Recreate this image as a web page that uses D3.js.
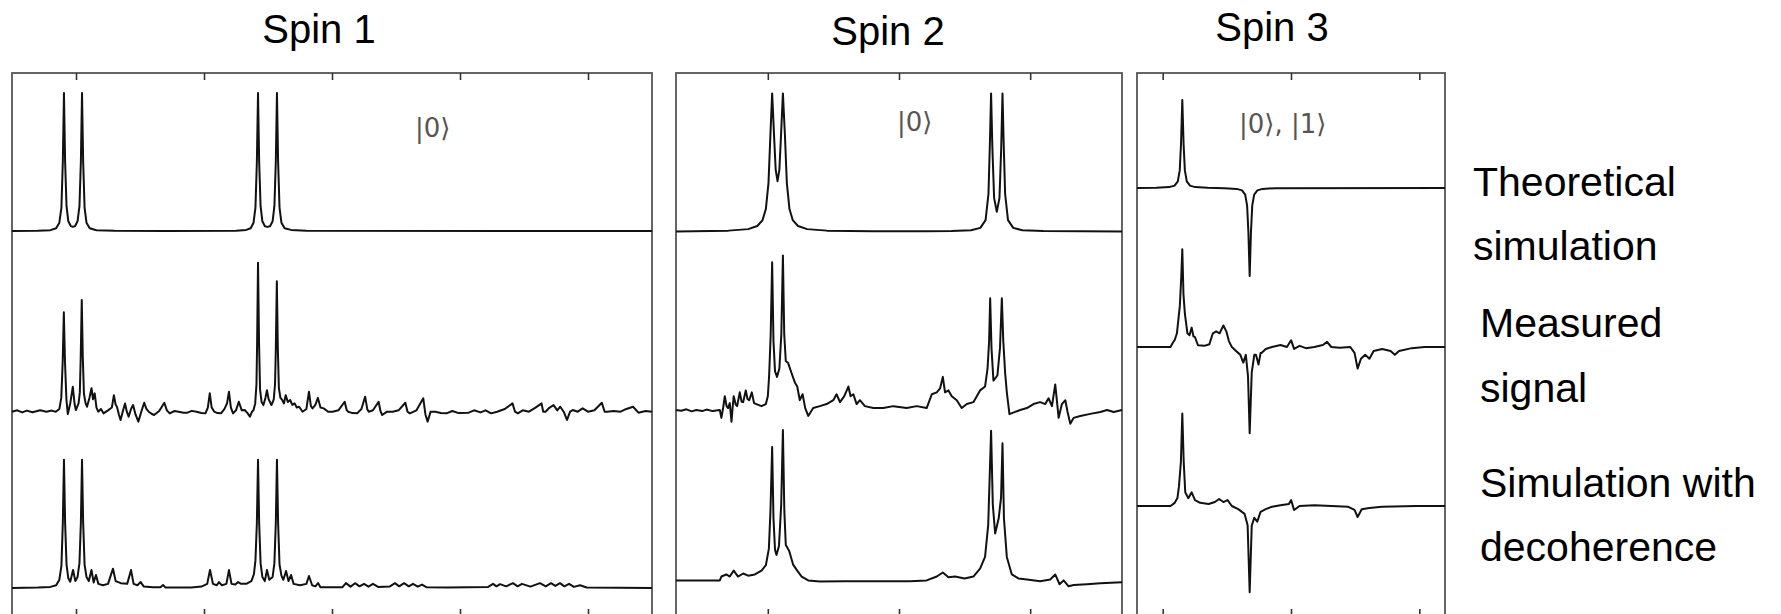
<!DOCTYPE html>
<html><head><meta charset="utf-8">
<script src="https://cdn.jsdelivr.net/npm/d3@7"></script>
<style>html,body{margin:0;padding:0;background:#fff;} svg{display:block;}</style>
</head><body><svg id="chart" width="1781" height="614"></svg>
<script>
// ---------------- DATA ----------------
const panelTitles = ["Spin 1", "Spin 2", "Spin 3"];
const ketLabels = ["|0\u27E9", "|0\u27E9", "|0\u27E9, |1\u27E9"];
const rowLabels = [["Theoretical", "simulation"], ["Measured", "signal"], ["Simulation with", "decoherence"]];

const spin1Domain = [-5, 45];
const spin2Domain = [-7, 27];
const spin3Domain = [-2, 22];
const spin1Ticks = [0, 10, 20, 30, 40];
const spin2Ticks = [0, 10, 20];
const spin3Ticks = [0, 10, 20];

// frequency (arb. units), amplitude (relative to theoretical peak)
const spin1Theory = [[-5,0],[-3,0.002],[-2,0.006],[-1.55,0.02],[-1.3,0.06],[-1.14,0.17],[-1.03,0.5],[-0.94,1],[-0.85,0.5],[-0.74,0.18],[-0.6,0.07],[-0.4,0.035],[-0.24,0.03],[-0.08,0.035],[0.12,0.07],[0.27,0.18],[0.38,0.5],[0.47,1],[0.56,0.5],[0.67,0.17],[0.82,0.06],[1.07,0.02],[1.6,0.006],[3,0.002],[7,0],[12.5,0.002],[13.3,0.008],[13.65,0.02],[13.87,0.06],[14.02,0.17],[14.13,0.5],[14.22,1],[14.31,0.5],[14.42,0.18],[14.56,0.07],[14.76,0.035],[14.96,0.03],[15.16,0.035],[15.36,0.07],[15.5,0.18],[15.61,0.5],[15.70,1],[15.79,0.5],[15.9,0.17],[16.05,0.06],[16.3,0.02],[16.8,0.008],[18,0.002],[45,0]];

const spin1Measured = [[-5,0],[-4.6,0.01],[-4.2,-0.005],[-3.85,0.008],[-3.4,-0.004],[-2.8,0.01],[-2.3,0],[-1.9,0.008],[-1.58,0],[-1.3,0.02],[-1.15,0.1],[-1.04,0.36],[-0.95,0.72],[-0.86,0.36],[-0.75,0.09],[-0.64,-0.017],[-0.45,0.06],[-0.25,0.18],[-0.1,0.05],[-0.01,0.012],[0.2,0.06],[0.3,0.14],[0.37,0.4],[0.45,0.81],[0.53,0.4],[0.62,0.13],[0.75,0.06],[0.86,0.036],[1.05,0.1],[1.21,0.17],[1.33,0.09],[1.46,0.133],[1.6,0.03],[1.74,0],[1.95,0.02],[2.15,-0.012],[2.5,0.01],[2.8,0.03],[2.96,0.12],[3.1,0.05],[3.2,0.036],[3.35,-0.02],[3.48,-0.06],[3.65,0],[3.83,0.06],[3.97,0],[4.11,-0.036],[4.3,0.02],[4.46,0.048],[4.65,-0.02],[4.87,-0.072],[5.1,0],[5.33,0.065],[5.5,0.02],[5.68,0],[5.9,-0.015],[6.1,-0.024],[6.5,0.005],[6.9,0.065],[7.1,0.01],[7.32,-0.012],[7.7,0.005],[8.01,0],[8.4,-0.008],[8.71,-0.007],[9.05,0.006],[9.41,0],[9.8,-0.01],[10.11,-0.012],[10.3,0.03],[10.45,0.133],[10.6,0.03],[10.8,0],[11.05,-0.01],[11.33,-0.012],[11.6,0.02],[11.8,0.06],[11.95,0.145],[12.1,0.03],[12.27,-0.012],[12.5,0.01],[12.72,0.072],[12.95,0.01],[13.18,0.012],[13.4,-0.01],[13.59,-0.036],[13.75,0],[13.87,0.012],[14.0,0.06],[14.1,0.2],[14.15,0.5],[14.22,1.08],[14.3,0.5],[14.38,0.16],[14.5,0.07],[14.64,0.048],[14.8,0.1],[14.92,0.155],[15.05,0.09],[15.27,0.048],[15.45,0.09],[15.55,0.2],[15.61,0.45],[15.69,0.945],[15.77,0.45],[15.85,0.17],[15.97,0.1],[16.11,0.085],[16.25,0.06],[16.38,0.12],[16.55,0.07],[16.73,0.085],[16.9,0.05],[17.08,0.06],[17.25,0.03],[17.43,0.036],[17.7,0],[18.0,0.02],[18.2,0.145],[18.35,0.04],[18.48,0.024],[18.7,0.05],[18.9,0.1],[19.1,0.03],[19.35,0.024],[19.7,0],[20.05,0],[20.5,0.01],[20.99,0.072],[21.15,0.01],[21.27,0],[21.6,-0.01],[21.96,-0.012],[22.3,0.02],[22.59,0.109],[22.75,0.02],[22.87,0],[23.2,0.01],[23.64,0.072],[23.8,0],[23.92,-0.024],[24.3,0],[24.75,0],[25.2,0.01],[25.73,0.065],[25.9,0],[26.08,-0.012],[26.6,0.01],[27.13,0.097],[27.3,-0.02],[27.47,-0.072],[27.7,0],[28.07,0],[28.5,-0.01],[28.94,-0.012],[29.4,0.005],[29.9,-0.01],[30.68,-0.007],[31.1,0.01],[31.6,-0.005],[32.0,0.01],[32.43,-0.012],[32.9,0],[33.5,0.02],[34.1,0.06],[34.3,0],[34.52,-0.012],[34.9,0.01],[35.39,0],[35.9,0.03],[36.37,0.06],[36.5,0],[36.68,0],[37.0,0.03],[37.31,0.048],[37.6,0.01],[37.83,0.036],[38.1,0],[38.36,-0.06],[38.6,0],[38.81,0.012],[39.2,0],[39.58,0.024],[40.0,0],[40.5,0.01],[41.08,0.065],[41.3,0],[41.5,0],[42.0,0.005],[42.54,0],[43.0,0.02],[43.52,0.036],[43.94,-0.007],[44.5,0.005],[45,0]];

const spin1Sim = [[-5,0],[-3,0.003],[-2,0.008],[-1.55,0.02],[-1.3,0.06],[-1.14,0.16],[-1.03,0.47],[-0.94,0.93],[-0.85,0.47],[-0.74,0.17],[-0.6,0.07],[-0.45,0.045],[-0.23,0.13],[-0.05,0.05],[0.12,0.08],[0.27,0.18],[0.38,0.47],[0.47,0.93],[0.56,0.47],[0.67,0.17],[0.82,0.08],[1.0,0.05],[1.21,0.13],[1.38,0.04],[1.56,0.094],[1.75,0.03],[2.1,0.02],[2.5,0.03],[2.89,0.14],[3.1,0.05],[3.5,0.035],[4.0,0.03],[4.3,0.13],[4.5,0.03],[4.8,0.02],[5.05,0.043],[5.3,0.01],[6.0,0.005],[6.6,0.005],[6.8,0.022],[7.0,0.003],[9.0,0.003],[9.8,0.01],[10.25,0.03],[10.47,0.13],[10.7,0.03],[11.0,0.02],[11.17,0.043],[11.4,0.02],[11.75,0.03],[11.95,0.13],[12.15,0.03],[12.45,0.025],[12.66,0.043],[12.9,0.03],[13.3,0.03],[13.7,0.05],[13.9,0.1],[14.02,0.2],[14.13,0.47],[14.22,0.93],[14.31,0.47],[14.42,0.18],[14.56,0.08],[14.75,0.05],[14.92,0.13],[15.1,0.06],[15.36,0.08],[15.5,0.18],[15.61,0.47],[15.70,0.93],[15.79,0.47],[15.9,0.17],[16.05,0.09],[16.2,0.06],[16.41,0.123],[16.6,0.05],[16.8,0.094],[17.0,0.03],[17.5,0.02],[18.0,0.03],[18.2,0.087],[18.45,0.02],[18.7,0.012],[18.91,0.036],[19.1,0.005],[20.8,0.005],[21.09,0.035],[21.45,0.01],[21.8,0.035],[22.15,0.012],[22.5,0.03],[22.85,0.01],[23.2,0.03],[23.6,0.008],[24.5,0.01],[24.92,0.035],[25.25,0.012],[25.63,0.035],[26.0,0.012],[26.33,0.03],[26.7,0.01],[27.03,0.025],[27.4,0.005],[29,0.003],[32.2,0.008],[32.58,0.03],[32.85,0.012],[33.13,0.028],[33.6,0.012],[34.14,0.035],[34.5,0.012],[34.84,0.03],[35.5,0.01],[36.25,0.035],[36.7,0.012],[37.11,0.035],[37.45,0.015],[37.81,0.035],[38.15,0.012],[38.52,0.03],[38.9,0.008],[39.38,0.02],[39.9,0.004],[45,0]];

const spin2Theory = [[-7,0],[-3,0.0056],[-1.5,0.0165],[-0.8,0.039],[-0.4,0.082],[-0.15,0.162],[0.05,0.35],[0.2,0.706],[0.33,1],[0.48,0.684],[0.6,0.446],[0.74,0.364],[0.88,0.446],[1.0,0.684],[1.15,1],[1.3,0.706],[1.45,0.35],[1.65,0.162],[1.9,0.082],[2.3,0.039],[3.0,0.0165],[4.5,0.0056],[8,0.001],[12,0.001],[14,0.0025],[15.5,0.0085],[16.2,0.0255],[16.6,0.082],[16.82,0.271],[16.93,0.641],[17.02,1],[17.12,0.6],[17.25,0.243],[17.455,0.142],[17.66,0.243],[17.79,0.6],[17.89,1],[17.98,0.641],[18.09,0.271],[18.31,0.082],[18.71,0.0255],[19.4,0.0085],[21,0.0025],[27,0]];

const spin2Measured = [[-7,0],[-6.6,-0.006],[-6.21,0.005],[-5.8,-0.01],[-5.45,0],[-5.0,-0.008],[-4.68,0.003],[-4.2,-0.008],[-3.66,0],[-3.54,-0.057],[-3.4,0.02],[-3.28,0.1],[-3.15,0.03],[-3.03,0.014],[-2.9,0.05],[-2.77,-0.085],[-2.68,0.02],[-2.6,0.1],[-2.45,0.04],[-2.34,0.028],[-2.14,0.128],[-2.0,0.06],[-1.88,0.057],[-1.78,0.1],[-1.68,0.142],[-1.55,0.08],[-1.42,0.071],[-1.22,0.128],[-1.05,0.05],[-0.87,0.043],[-0.48,0.028],[-0.15,0.043],[0.0,0.1],[0.1,0.25],[0.22,0.55],[0.33,1.07],[0.43,0.5],[0.55,0.28],[0.7,0.24],[0.88,0.3],[1.03,0.55],[1.15,1.12],[1.25,0.55],[1.37,0.355],[1.55,0.34],[1.8,0.27],[2.06,0.2],[2.24,0.17],[2.44,0.071],[2.65,0.114],[2.85,0.014],[3.08,-0.043],[3.46,0.014],[3.97,0.028],[4.48,0.043],[4.99,0.071],[5.24,0.114],[5.5,0.057],[5.83,0.1],[6.14,0.17],[6.31,0.1],[6.52,0.114],[6.77,0.043],[7.02,0.071],[7.4,0.028],[8.04,0.014],[8.8,0.014],[9.57,0.028],[10.59,0.014],[11.35,0.028],[12.11,0.014],[12.5,0.114],[12.88,0.128],[13.13,0.156],[13.34,0.24],[13.51,0.128],[13.77,0.142],[14.02,0.1],[14.4,0.071],[14.78,0.014],[15.17,0.043],[15.67,0.057],[16.18,0.142],[16.56,0.17],[16.75,0.3],[16.87,0.5],[16.95,0.81],[17.05,0.45],[17.2,0.213],[17.5,0.25],[17.7,0.45],[17.84,0.81],[17.95,0.5],[18.09,0.27],[18.22,0.128],[18.42,-0.03],[18.85,-0.014],[19.24,0],[19.75,0.014],[20.25,0.043],[20.76,0.057],[21.15,0.043],[21.4,0.085],[21.66,0.028],[21.91,0.185],[22.17,-0.057],[22.42,0.043],[22.68,0.071],[22.85,-0.014],[23.06,-0.1],[23.31,-0.057],[23.82,-0.043],[24.58,-0.028],[25.35,-0.014],[25.86,0],[26.37,-0.014],[27,0]];

const spin2Sim = [[-7,0],[-3.66,0],[-3.54,0.028],[-3.16,0.043],[-2.9,0.028],[-2.6,0.071],[-2.27,0.028],[-1.88,0.05],[-1.5,0.034],[-0.99,0.043],[-0.48,0.071],[-0.15,0.11],[0.08,0.23],[0.2,0.5],[0.33,0.966],[0.43,0.45],[0.55,0.22],[0.66,0.185],[0.85,0.25],[1.02,0.55],[1.15,1.09],[1.26,0.5],[1.37,0.256],[1.63,0.213],[1.93,0.114],[2.24,0.071],[2.58,0.028],[3.08,0],[3.97,-0.008],[5.75,-0.006],[8.3,-0.006],[10.84,-0.006],[12.11,0],[12.88,0.028],[13.34,0.057],[13.77,0.023],[14.27,0.028],[15.0,0.014],[15.67,0.028],[16.18,0.085],[16.56,0.17],[16.8,0.4],[17.02,1.085],[17.15,0.55],[17.33,0.34],[17.6,0.45],[17.78,0.6],[17.89,0.994],[18.0,0.45],[18.22,0.17],[18.6,0.043],[19.1,0.014],[19.75,0.006],[20.76,-0.006],[21.53,0.006],[21.91,0.043],[22.24,-0.028],[22.55,0],[22.93,-0.043],[23.31,-0.034],[24.33,-0.028],[25.35,-0.02],[27,-0.014]];

const spin3Theory = [[-2,0],[-0.5,0.002],[0.5,0.01],[0.93,0.027],[1.18,0.075],[1.33,0.2],[1.43,0.5],[1.53,1],[1.63,0.5],[1.73,0.2],[1.88,0.075],[2.13,0.027],[2.53,0.01],[3.5,0.002],[4.8,-0.002],[5.78,-0.01],[6.18,-0.027],[6.43,-0.075],[6.58,-0.2],[6.68,-0.5],[6.78,-1],[6.88,-0.5],[6.98,-0.2],[7.13,-0.075],[7.38,-0.027],[7.78,-0.01],[8.8,-0.002],[22,0]];

const spin3Measured = [[-2,0],[0.61,0],[0.78,0.045],[0.94,0.08],[1.11,0.156],[1.34,0.47],[1.45,0.8],[1.53,1.11],[1.62,0.6],[1.73,0.378],[1.93,0.156],[2.09,0.134],[2.26,0.22],[2.4,0.12],[2.52,0.111],[2.75,0.02],[3.25,0.013],[3.64,0.031],[3.91,0.156],[4.17,0.178],[4.44,0.156],[4.73,0.245],[4.96,0.178],[5.16,0.067],[5.39,0],[5.72,-0.045],[6.05,-0.089],[6.28,-0.178],[6.48,-0.089],[6.65,-0.33],[6.78,-0.98],[6.94,-0.29],[7.14,-0.089],[7.27,-0.089],[7.47,-0.2],[7.63,-0.067],[7.7,-0.067],[8.03,-0.022],[8.52,0],[9.18,0.022],[9.68,0],[10.01,0.076],[10.24,-0.022],[10.67,0.013],[11.16,-0.013],[11.82,0],[12.48,0.022],[12.81,0.058],[13.14,0],[13.8,-0.009],[14.62,0],[14.95,-0.067],[15.19,-0.245],[15.45,-0.134],[15.78,-0.089],[16.11,-0.134],[16.44,-0.045],[17.1,-0.022],[17.76,-0.045],[18.09,-0.089],[18.42,-0.045],[19.41,-0.013],[20.4,0],[22,0]];

const spin3Sim = [[-2,0],[0.61,0],[0.94,0.036],[1.15,0.09],[1.27,0.223],[1.42,0.5],[1.53,1.05],[1.64,0.5],[1.76,0.156],[2.0,0.089],[2.26,0.156],[2.52,0.067],[2.92,0.036],[3.58,0.022],[4.07,0.045],[4.4,0.08],[4.73,0.045],[5.06,0.067],[5.39,0],[5.89,-0.036],[6.38,-0.089],[6.62,-0.22],[6.78,-0.98],[6.94,-0.223],[7.14,-0.134],[7.37,-0.178],[7.63,-0.067],[8.03,-0.036],[8.52,-0.009],[9.18,0.009],[9.84,0.022],[10.01,0.067],[10.24,-0.045],[10.67,0],[11.82,0.009],[13.14,0],[14.46,-0.009],[14.95,-0.045],[15.19,-0.125],[15.51,-0.036],[16.11,-0.022],[17.1,-0.009],[19.74,0],[22,0]];

// ---------------- LAYOUT ----------------
const W = 1781, H = 614;
const frameTop = 73, frameBottom = 616;
const panels = [
  {x0: 12, x1: 652, domain: spin1Domain, ticks: spin1Ticks, series: [spin1Theory, spin1Measured, spin1Sim],
   baselines: [231, 411.7, 588], unit: 138, titleX: 319, titleY: 43, ketX: 415, ketY: 137},
  {x0: 676, x1: 1122, domain: spin2Domain, ticks: spin2Ticks, series: [spin2Theory, spin2Measured, spin2Sim],
   baselines: [231.4, 410, 580.4], unit: 138, titleX: 888, titleY: 45, ketX: 897, ketY: 131},
  {x0: 1137, x1: 1445, domain: spin3Domain, ticks: spin3Ticks, series: [spin3Theory, spin3Measured, spin3Sim],
   baselines: [188, 347, 506], unit: 88, titleX: 1272, titleY: 41, ketX: 1239, ketY: 133}
];
const rowLabelPos = [{x: 1473, y: [196, 260]}, {x: 1480, y: [337, 402]}, {x: 1480, y: [497, 561]}];

const svg = d3.select("#chart");
svg.append("rect").attr("width", W).attr("height", H).attr("fill", "#fff");

panels.forEach((p, i) => {
  const g = svg.append("g");
  const x = d3.scaleLinear().domain(p.domain).range([p.x0, p.x1]);

  // frame
  g.append("rect").attr("x", p.x0).attr("y", frameTop)
    .attr("width", p.x1 - p.x0).attr("height", frameBottom - frameTop)
    .attr("fill", "#fff").attr("stroke", "#555").attr("stroke-width", 1.8);

  // ticks (inward, top and bottom, no labels)
  const topAxis = d3.axisTop(x).tickValues(p.ticks).tickSizeInner(-7).tickSizeOuter(0).tickFormat("");
  const botAxis = d3.axisBottom(x).tickValues(p.ticks).tickSizeInner(-7).tickSizeOuter(0).tickFormat("");
  [[topAxis, frameTop], [botAxis, frameBottom]].forEach(([ax, yy]) => {
    const a = g.append("g").attr("transform", `translate(0,${yy})`).call(ax);
    a.select(".domain").remove();
    a.selectAll(".tick line").attr("stroke", "#333").attr("stroke-width", 1.6);
  });

  // traces
  p.series.forEach((s, r) => {
    const y = d3.scaleLinear().domain([0, 1]).range([p.baselines[r], p.baselines[r] - p.unit]);
    const line = d3.line().x(d => x(d[0])).y(d => y(d[1]));
    g.append("path").datum(s).attr("d", line)
      .attr("fill", "none").attr("stroke", "#111").attr("stroke-width", 2)
      .attr("stroke-linejoin", "round");
  });

  // titles
  svg.append("text").attr("x", p.titleX).attr("y", p.titleY)
    .attr("text-anchor", "middle").attr("font-family", "'Liberation Sans', Arial, sans-serif")
    .attr("font-size", 40).attr("fill", "#000").text(panelTitles[i]);

  // ket labels
  svg.append("text").attr("x", p.ketX).attr("y", p.ketY)
    .attr("font-family", "'DejaVu Sans', 'Liberation Sans', sans-serif")
    .attr("font-size", 26).attr("fill", "#5a5450").text(ketLabels[i]);
});

// row labels
rowLabels.forEach((lines, i) => {
  lines.forEach((t, j) => {
    svg.append("text").attr("x", rowLabelPos[i].x).attr("y", rowLabelPos[i].y[j])
      .attr("font-family", "'Liberation Sans', Arial, sans-serif")
      .attr("font-size", 41).attr("fill", "#000").text(t);
  });
});
</script>
</body></html>
